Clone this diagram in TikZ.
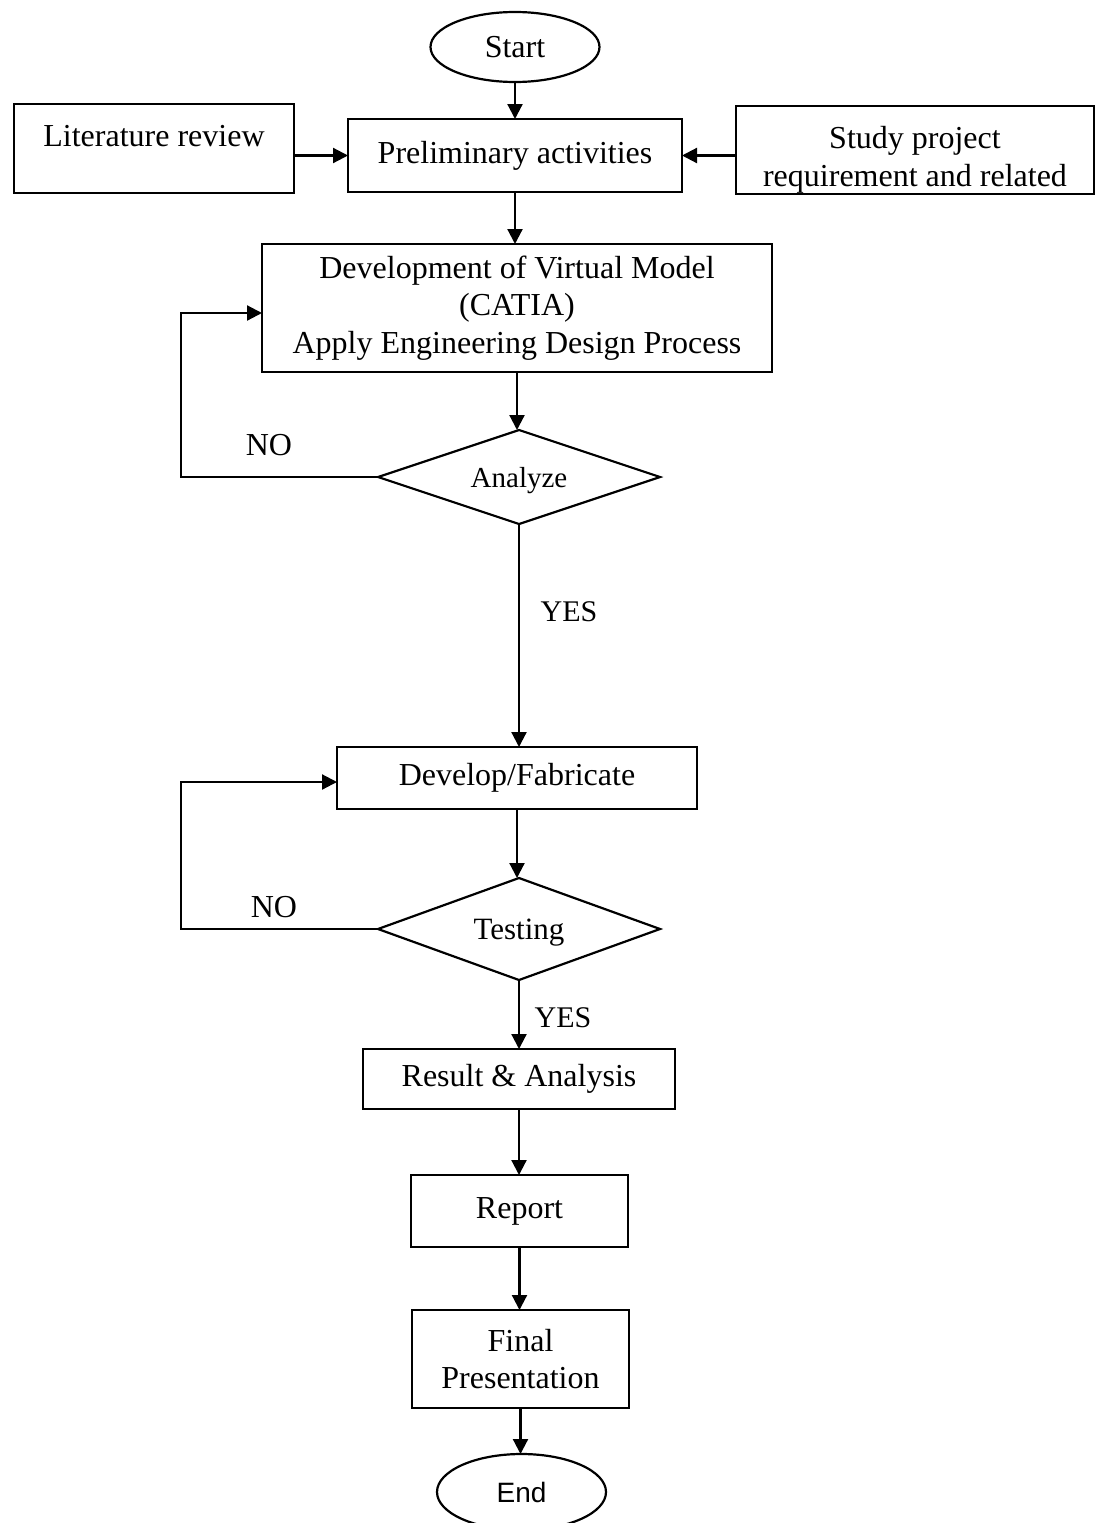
\documentclass[tikz,border=0pt]{standalone}
\usepackage{fontspec}
\setmainfont{Liberation Serif}
\newfontfamily\arialf{Liberation Sans}
\usetikzlibrary{shapes.geometric,arrows.meta}
\begin{document}
\begin{tikzpicture}[x=1pt,y=-1pt,
  every node/.style={inner sep=0pt,outer sep=0pt},
  txt/.style={font=\fontsize{32}{37.5}\selectfont,align=center},
  box/.style={draw,line width=2.2pt,rectangle,txt},
  oval/.style={draw,line width=2.2pt,ellipse,txt},
  dia/.style={draw,line width=2.2pt,diamond,txt,text depth=0pt},
  arr/.style={line width=2.2pt,-{Triangle[length=15pt,width=15pt]}},
  lnk/.style={line width=2.2pt}]
\useasboundingbox (0,0) rectangle (1097,1523);
% nodes
\node[oval,minimum width=169pt,minimum height=70pt] (start) at (515,47) {Start};
\node[box,minimum width=280pt,minimum height=89pt] (lit) at (154,148.5) {};
\node[txt] (littxt) at (154,136) {Literature review};
\node[box,minimum width=334pt,minimum height=73pt] (prel) at (515,155.5) {Preliminary activities};
\node[txt] (studytxt) at (915,160) {Study project\\requirement and related};
\node[box,minimum width=358pt,minimum height=88pt] (study) at (915,150) {};
\node[box,minimum width=510pt,minimum height=128pt] (dev) at (517,308) {Development of Virtual Model\\(CATIA)\\Apply Engineering Design Process};
\node[dia,aspect=3,minimum width=282pt,minimum height=94pt,font=\fontsize{29}{34}\selectfont] (ana) at (519,477) {Analyze};
\node[box,minimum width=360pt,minimum height=62pt] (fab) at (517,778) {Develop/Fabricate};
\node[dia,aspect=2.76,minimum width=282pt,minimum height=102pt,font=\fontsize{31}{36}\selectfont] (test) at (519,929) {Testing};
\node[box,minimum width=312pt,minimum height=60pt] (res) at (519,1079) {Result \& Analysis};
\node[box,minimum width=217pt,minimum height=72pt] (rep) at (519.5,1211) {Report};
\node[box,minimum width=217pt,minimum height=98pt] (fin) at (520.5,1359) {Final\\Presentation};
\node[oval,minimum width=169pt,minimum height=76pt,font=\arialf\fontsize{28}{32}\selectfont] (end) at (521.5,1492) {End};
% labels
\node[txt] (no1) at (269,445) {NO};
\node[txt] (no2) at (274,907) {NO};
\node[txt,font=\fontsize{30}{34}\selectfont] (yes1) at (569,612) {YES};
\node[txt,font=\fontsize{30}{34}\selectfont] (yes2) at (563,1018) {YES};
% loop corners
\coordinate (fb1) at (181,313);
\coordinate (fb2) at (181,782);
% connectors
\draw[arr] (start.south) -- (start.south |- prel.north);
\draw[arr] (lit.east |- prel.west) -- (prel.west);
\draw[arr] (study.west |- prel.east) -- (prel.east);
\draw[arr] (prel.south) -- (prel.south |- dev.north);
\draw[arr] (dev.south) -- (dev.south |- ana.north);
\draw[arr] (ana.south) -- (ana.south |- fab.north);
\draw[arr] (fab.south) -- (fab.south |- test.north);
\draw[arr] (test.south) -- (test.south |- res.north);
\draw[arr] (res.south) -- (res.south |- rep.north);
\draw[arr] (rep.south) -- (rep.south |- fin.north);
\draw[arr] (fin.south) -- (fin.south |- end.north);
\draw[arr] (ana.west) -- (ana.west -| fb1) -- (fb1) -- (fb1 -| dev.west);
\draw[arr] (test.west) -- (test.west -| fb2) -- (fb2) -- (fb2 -| fab.west);
\end{tikzpicture}
\end{document}
